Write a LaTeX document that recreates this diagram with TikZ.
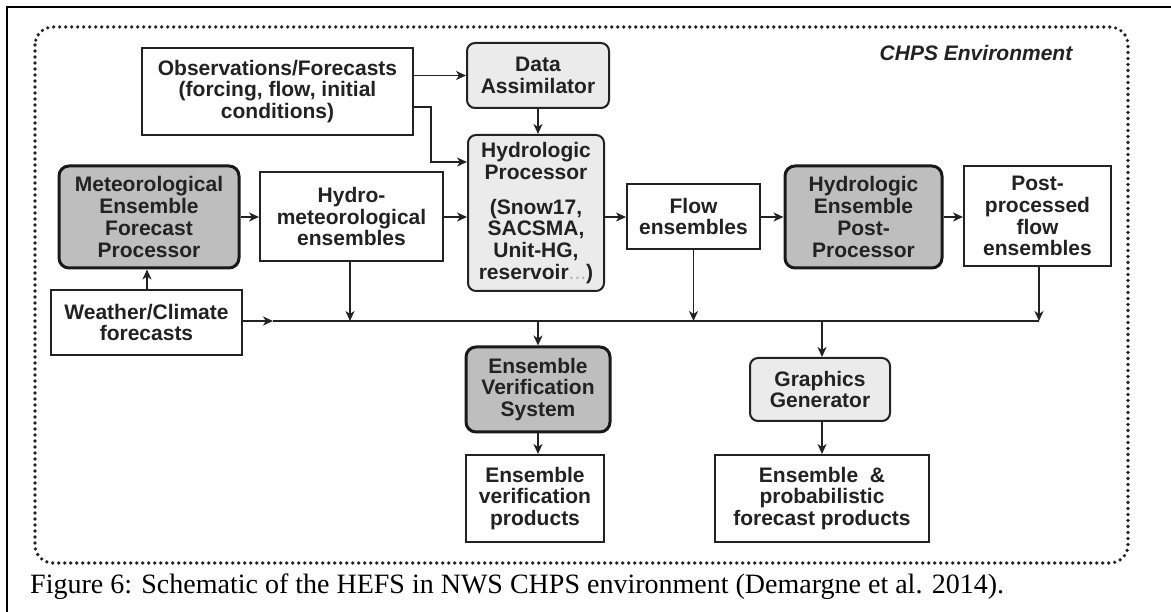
\documentclass[tikz,border=0pt]{standalone}
\usepackage{fontspec}
\setmainfont{Liberation Serif}
\setsansfont{Liberation Sans}
\usetikzlibrary{arrows.meta}
\definecolor{ink}{HTML}{222222}
\definecolor{darkfill}{HTML}{BEBEBE}
\definecolor{lightfill}{HTML}{EBEBEB}
\tikzset{
  base/.style={draw=ink, text=ink, align=center, inner sep=0pt,
    font=\sffamily\bfseries\fontsize{21}{21.8}\selectfont},
  plainbox/.style={base, line width=2pt, fill=white},
  lightbox/.style={base, line width=2pt, fill=lightfill, rounded corners=8pt},
  darkbox/.style={base, line width=3pt, draw=black!90, fill=darkfill, rounded corners=10pt},
  arr/.style={-{Stealth[length=10pt,width=9pt,inset=3pt]}, line width=1.8pt, draw=ink},
  wire/.style={line width=1.8pt, draw=ink},
}
\begin{document}
\begin{tikzpicture}[x=1pt,y=-1pt]
  \useasboundingbox (0,0) rectangle (1171,612);
  \fill[white] (0,0) rectangle (1171,612);

  % page frame and the environment boundary
  \draw[black, line width=2.2pt] (7,612) -- (7,7) -- (1171,7);
  \draw[ink, line width=3.6pt, dash pattern=on 0pt off 6pt, line cap=round,
        rounded corners=18pt] (35,27) rectangle (1128,563);
  \node[text=ink, inner sep=0pt, font=\sffamily\bfseries\itshape\fontsize{21}{24}\selectfont]
    (env) at (976,53) {CHPS Environment};

  % boxes
  \node[plainbox, minimum width=271pt, minimum height=87pt] (obs) at (277.5,91.5)
    {Observations/Forecasts\\(forcing, flow, initial\\conditions)};
  \node[lightbox, minimum width=142pt, minimum height=65pt] (da) at (538,75.5)
    {Data\\Assimilator};
  \node[lightbox, minimum width=136pt, minimum height=156pt] (hp) at (536,213)
    {Hydrologic\\Processor\\[13pt](Snow17,\\SACSMA,\\Unit-HG,\\reservoir\textcolor{black!30}{\mdseries...})};
  \node[darkbox, minimum width=180pt, minimum height=102pt] (mefp) at (149,217)
    {Meteorological\\Ensemble\\Forecast\\Processor};
  \node[plainbox, minimum width=183pt, minimum height=89pt] (hm) at (351.5,216.5)
    {Hydro-\\meteorological\\ensembles};
  \node[plainbox, minimum width=191pt, minimum height=65pt] (wc) at (146.5,322.5)
    {Weather/Climate\\forecasts};
  \node[plainbox, minimum width=133pt, minimum height=65pt] (flow) at (693.5,216.5)
    {Flow\\ensembles};
  \node[darkbox, minimum width=157pt, minimum height=102pt] (hepp) at (863.5,217)
    {Hydrologic\\Ensemble\\Post-\\Processor};
  \node[plainbox, minimum width=147pt, minimum height=100pt] (pp) at (1037.5,216)
    {Post-\\processed\\flow\\ensembles};
  \node[darkbox, minimum width=144pt, minimum height=85pt] (evs) at (538,389.5)
    {Ensemble\\Verification\\System};
  \node[plainbox, minimum width=138pt, minimum height=87pt] (evp) at (535,498.5)
    {Ensemble\\verification\\products};
  \node[lightbox, minimum width=140pt, minimum height=63pt] (gg) at (820,389.5)
    {Graphics\\Generator};
  \node[plainbox, minimum width=214pt, minimum height=87pt] (ep) at (822,498.5)
    {Ensemble~~\&\\probabilistic\\forecast products};

  % helper coordinates
  \coordinate (row) at (0,217);
  \coordinate (bus) at (0,321);
  \coordinate (busarrow) at (273,321);
  \coordinate (busend) at (1039,321);
  \coordinate (elbowtop) at (431,107);
  \coordinate (elbowbot) at (431,162);

  % upper connectors
  \draw[arr] (obs.east |- da.west) -- (da.west);
  \draw[arr] (obs.east |- elbowtop) -- (elbowtop) -- (elbowbot) -- (hp.west |- elbowbot);
  \draw[arr] (da.south) -- (da.south |- hp.north);
  \draw[arr] (mefp.east |- row) -- (hm.west |- row);
  \draw[arr] (hm.east |- row) -- (hp.west |- row);
  \draw[arr] (hp.east |- row) -- (flow.west |- row);
  \draw[arr] (flow.east |- row) -- (hepp.west |- row);
  \draw[arr] (hepp.east |- row) -- (pp.west |- row);
  \draw[arr] (wc.north -| 147,0) -- (mefp.south -| 147,0);

  % collecting line
  \draw[arr] (wc.east |- bus) -- (busarrow);
  \draw[wire] (busarrow) -- (busend);
  \draw[arr] (hm.south -| 350,0) -- (bus -| 350,0);
  \draw[arr] (flow.south) -- (flow.south |- bus);
  \draw[arr] (pp.south -| busend) -- (busend);

  % lower connectors
  \draw[arr] (evs.north |- bus) -- (evs.north);
  \draw[arr] (bus -| 822,0) -- (gg.north -| 822,0);
  \draw[arr] (evs.south) -- (evs.south |- evp.north);
  \draw[arr] (gg.south -| 822,0) -- (ep.north -| 822,0);

  % caption
  \node[anchor=base west, inner sep=0pt, text=black, font=\fontsize{28}{30}\selectfont]
    (cap) at (30,593) {Figure 6: Schematic of the HEFS in NWS CHPS environment (Demargne et al. 2014).};
\end{tikzpicture}
\end{document}
